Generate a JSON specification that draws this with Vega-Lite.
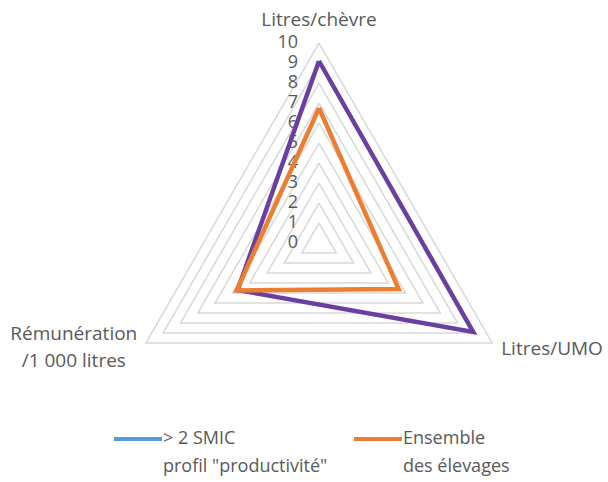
{
  "$schema": "https://vega.github.io/schema/vega-lite/v6.json",
  "width": 608,
  "height": 482,
  "padding": 0,
  "autosize": "none",
  "background": "white",
  "config": {"view": {"stroke": null}, "font": "Open Sans"},
  "datasets": {
    "series": [
      {"series": "> 2 SMIC profil \"productivité\"", "idx": 0, "value": null},
      {"series": "Profil 3", "idx": 0, "value": 9.1},
      {"series": "Profil 3", "idx": 1, "value": 8.9},
      {"series": "Profil 3", "idx": 2, "value": 4.7},
      {"series": "Profil 3", "idx": 3, "value": 9.1},
      {"series": "Ensemble des élevages", "idx": 0, "value": 6.75},
      {"series": "Ensemble des élevages", "idx": 1, "value": 4.6},
      {"series": "Ensemble des élevages", "idx": 2, "value": 4.75},
      {"series": "Ensemble des élevages", "idx": 3, "value": 6.75}
    ],
    "rings": [
      {"level": 1, "idx": [0, 1, 2, 3]},
      {"level": 2, "idx": [0, 1, 2, 3]},
      {"level": 3, "idx": [0, 1, 2, 3]},
      {"level": 4, "idx": [0, 1, 2, 3]},
      {"level": 5, "idx": [0, 1, 2, 3]},
      {"level": 6, "idx": [0, 1, 2, 3]},
      {"level": 7, "idx": [0, 1, 2, 3]},
      {"level": 8, "idx": [0, 1, 2, 3]},
      {"level": 9, "idx": [0, 1, 2, 3]},
      {"level": 10, "idx": [0, 1, 2, 3]}
    ],
    "ticks": [
      {"tick": 0}, {"tick": 1}, {"tick": 2}, {"tick": 3}, {"tick": 4}, {"tick": 5},
      {"tick": 6}, {"tick": 7}, {"tick": 8}, {"tick": 9}, {"tick": 10}
    ],
    "axes": [
      {"idx": 0, "label": ["Litres/chèvre"]},
      {"idx": 1, "label": ["Litres/UMO"]},
      {"idx": 2, "label": ["Rémunération", "/1 000 litres"]}
    ]
  },
  "layer": [
    {
      "data": {"name": "rings"},
      "transform": [
        {"flatten": ["idx"]},
        {"calculate": "PI/2 - datum.idx*2*PI/3", "as": "a"},
        {"calculate": "datum.level*cos(datum.a)", "as": "px"},
        {"calculate": "datum.level*sin(datum.a)", "as": "py"}
      ],
      "mark": {"type": "line", "color": "#D9D9D9", "strokeWidth": 1.5},
      "encoding": {
        "x": {"field": "px", "type": "quantitative", "scale": {"domain": [-15.95, 14.45], "nice": false, "zero": false}, "axis": null},
        "y": {"field": "py", "type": "quantitative", "scale": {"domain": [-11.95, 12.15], "nice": false, "zero": false}, "axis": null},
        "detail": {"field": "level"},
        "order": {"field": "idx"}
      }
    },
    {
      "data": {"name": "ticks"},
      "mark": {"type": "text", "align": "right", "baseline": "middle", "dx": -21, "fontSize": 18, "color": "#595959"},
      "encoding": {
        "x": {"datum": 0, "type": "quantitative"},
        "y": {"field": "tick", "type": "quantitative"},
        "text": {"field": "tick"}
      }
    },
    {
      "data": {"name": "series"},
      "transform": [
        {"calculate": "PI/2 - datum.idx*2*PI/3", "as": "a"},
        {"calculate": "datum.value*cos(datum.a)", "as": "px"},
        {"calculate": "datum.value*sin(datum.a)", "as": "py"}
      ],
      "mark": {"type": "line", "strokeWidth": 4.5, "strokeJoin": "miter"},
      "encoding": {
        "x": {"field": "px", "type": "quantitative"},
        "y": {"field": "py", "type": "quantitative"},
        "order": {"field": "idx"},
        "color": {
          "field": "series",
          "type": "nominal",
          "scale": {
            "domain": ["> 2 SMIC profil \"productivité\"", "Profil 3", "Ensemble des élevages"],
            "range": ["#5B9BD5", "#6A3FA0", "#ED7D31"]
          },
          "legend": {
            "values": ["> 2 SMIC profil \"productivité\"", "Ensemble des élevages"],
            "title": null,
            "orient": "none",
            "legendX": 112,
            "legendY": 413,
            "direction": "horizontal",
            "columns": 2,
            "columnPadding": 18,
            "symbolType": "stroke",
            "symbolSize": 2304,
            "symbolStrokeWidth": 4,
            "labelFontSize": 18,
            "labelColor": "#595959",
            "labelBaseline": "middle",
            "labelOffset": -1,
            "labelLimit": 300,
            "labelExpr": "datum.label == 'Ensemble des élevages' ? ['Ensemble', 'des élevages'] : ['> 2 SMIC', 'profil \"productivité\"']",
            "encode": {"labels": {"update": {"lineHeight": {"value": 28}}}}
          }
        }
      }
    },
    {
      "data": {"name": "axes"},
      "transform": [
        {"filter": "datum.idx == 0"},
        {"calculate": "PI/2 - datum.idx*2*PI/3", "as": "a"},
        {"calculate": "10*cos(datum.a)", "as": "px"},
        {"calculate": "10*sin(datum.a)", "as": "py"}
      ],
      "mark": {"type": "text", "align": "center", "baseline": "middle", "dy": -23, "fontSize": 19, "color": "#595959"},
      "encoding": {"x": {"field": "px", "type": "quantitative"}, "y": {"field": "py", "type": "quantitative"}, "text": {"field": "label"}}
    },
    {
      "data": {"name": "axes"},
      "transform": [
        {"filter": "datum.idx == 1"},
        {"calculate": "PI/2 - datum.idx*2*PI/3", "as": "a"},
        {"calculate": "10*cos(datum.a)", "as": "px"},
        {"calculate": "10*sin(datum.a)", "as": "py"}
      ],
      "mark": {"type": "text", "align": "left", "baseline": "middle", "dx": 9, "dy": 6, "fontSize": 19, "color": "#595959"},
      "encoding": {"x": {"field": "px", "type": "quantitative"}, "y": {"field": "py", "type": "quantitative"}, "text": {"field": "label"}}
    },
    {
      "data": {"name": "axes"},
      "transform": [
        {"filter": "datum.idx == 2"},
        {"calculate": "PI/2 - datum.idx*2*PI/3", "as": "a"},
        {"calculate": "10*cos(datum.a)", "as": "px"},
        {"calculate": "10*sin(datum.a)", "as": "py"}
      ],
      "mark": {"type": "text", "align": "center", "baseline": "middle", "dx": -72, "dy": -9, "lineHeight": 27, "fontSize": 19, "color": "#595959"},
      "encoding": {"x": {"field": "px", "type": "quantitative"}, "y": {"field": "py", "type": "quantitative"}, "text": {"field": "label"}}
    }
  ]
}
